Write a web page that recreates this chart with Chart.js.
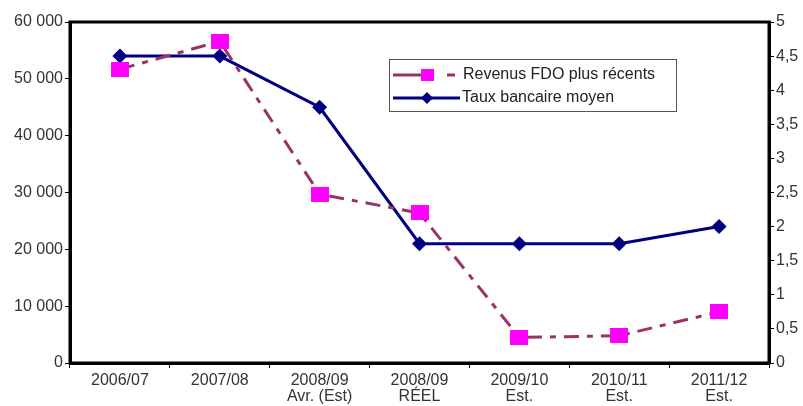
<!DOCTYPE html>
<html>
<head>
<meta charset="utf-8">
<script src="https://cdn.jsdelivr.net/npm/chart.js@4"></script>
<style>
  html, body { margin: 0; padding: 0; background: #fff; }
  #wrap { width: 803px; height: 406px; position: relative; }
</style>
</head>
<body>
<div id="wrap"><canvas id="myChart" width="803" height="406"></canvas></div>
<script>
// categories (multi-line labels)
const years = [
	['2006/07'],
	['2007/08'],
	['2008/09', 'Avr. (Est)'],
	['2008/09', 'RÉEL'],
	['2009/10', 'Est.'],
	['2010/11', 'Est.'],
	['2011/12', 'Est.']
];
// left axis series
const revenus = [51700, 56600, 29700, 26400, 4500, 4800, 9000];
// right axis series
const taux = [4.5, 4.5, 3.75, 1.75, 1.75, 1.75, 2.0];

const revenusLabel = 'Revenus FDO plus récents';
const tauxLabel = 'Taux bancaire moyen';

const pink = '#FF00FF';
const plum = '#993366';
const navy = '#000080';
const tickFont = { family: 'Liberation Sans, Arial, sans-serif', size: 16, lineHeight: 1.0 };

// slightly wide pink marker, like the original
const pinkMark = document.createElement('canvas');
pinkMark.width = 18;
pinkMark.height = 15;
const pm = pinkMark.getContext('2d');
pm.fillStyle = pink;
pm.fillRect(0, 0, 18, 15);

// box around the plot + legend drawn inside
const boxPlugin = {
	id: 'boxAndLegend',
	afterDraw(chart) {
		const ctx = chart.ctx;
		const a = chart.chartArea;
		ctx.save();
		ctx.strokeStyle = '#000';
		ctx.lineWidth = 3;
		ctx.strokeRect(a.left, a.top, a.right - a.left, a.bottom - a.top);

		// legend box
		const lx = 389, ly = 59, lw = 287, lh = 52;
		ctx.lineWidth = 1;
		ctx.strokeStyle = '#555';
		ctx.fillStyle = '#fff';
		ctx.fillRect(lx, ly, lw, lh);
		ctx.strokeRect(lx + 0.5, ly + 0.5, lw, lh);

		// row 1 : revenus
		let y = ly + 16;
		ctx.strokeStyle = plum;
		ctx.lineWidth = 3;
		ctx.beginPath();
		ctx.moveTo(lx + 4, y); ctx.lineTo(lx + 38, y);
		ctx.moveTo(lx + 58, y); ctx.lineTo(lx + 66, y);
		ctx.stroke();
		ctx.fillStyle = pink;
		ctx.fillRect(lx + 32, y - 6, 13, 12);
		ctx.fillStyle = '#222';
		ctx.font = '16px Liberation Sans, Arial, sans-serif';
		ctx.textBaseline = 'middle';
		ctx.fillText(revenusLabel, lx + 74, y);

		// row 2 : taux
		y = ly + 39;
		ctx.strokeStyle = navy;
		ctx.beginPath();
		ctx.moveTo(lx + 4, y); ctx.lineTo(lx + 71, y);
		ctx.stroke();
		ctx.fillStyle = navy;
		ctx.beginPath();
		ctx.moveTo(lx + 38, y - 6); ctx.lineTo(lx + 44, y);
		ctx.lineTo(lx + 38, y + 6); ctx.lineTo(lx + 32, y);
		ctx.closePath(); ctx.fill();
		ctx.fillStyle = '#222';
		ctx.fillText(tauxLabel, lx + 73, y);
		ctx.restore();
	}
};

const ctx = document.getElementById('myChart');
const myChart = new Chart(ctx, {
	type: 'line',
	data: {
		labels: years,
		datasets: [{
			label: revenusLabel,
			data: revenus,
			yAxisID: 'y',
			borderColor: plum,
			borderWidth: 3,
			borderDash: [15, 8, 6, 8],
			pointStyle: pinkMark,
			pointRadius: 9,
			pointHoverRadius: 9,
			pointBackgroundColor: pink,
			pointBorderColor: pink,
			pointBorderWidth: 0,
			tension: 0
		}, {
			label: tauxLabel,
			data: taux,
			yAxisID: 'y1',
			borderColor: navy,
			borderWidth: 3,
			pointStyle: 'rectRot',
			pointRadius: 7.5,
			pointHoverRadius: 7.5,
			pointBackgroundColor: navy,
			pointBorderColor: navy,
			pointBorderWidth: 0,
			tension: 0
		}]
	},
	options: {
		responsive: false,
		animation: false,
		layout: { padding: { top: 22, left: 0, right: 0, bottom: 0 } },
		plugins: {
			legend: { display: false },
			tooltip: { enabled: false }
		},
		scales: {
			x: {
				offset: true,
				grid: { display: true, offset: true, drawOnChartArea: false, tickLength: 5, color: '#000' },
				border: { display: true, color: '#000', width: 3 },
				ticks: { color: '#333', font: tickFont, maxRotation: 0, autoSkip: false, padding: 5 },
				afterFit(scale) { scale.height = 43; }
			},
			y: {
				position: 'left',
				min: 0,
				max: 60000,
				grid: { drawOnChartArea: false, tickLength: 5, color: '#000' },
				border: { display: true, color: '#000', width: 3 },
				ticks: {
					stepSize: 10000,
					color: '#333',
					font: tickFont,
					padding: 2,
					callback: function(value) {
						return value.toString().replace(/\B(?=(\d{3})+(?!\d))/g, ' ');
					}
				},
				afterFit(scale) { scale.width = 70; }
			},
			y1: {
				position: 'right',
				min: 0,
				max: 5,
				grid: { drawOnChartArea: false, tickLength: 5, color: '#000' },
				border: { display: true, color: '#000', width: 3 },
				ticks: {
					stepSize: 0.5,
					color: '#333',
					font: tickFont,
					padding: 2,
					callback: function(value) {
						return value.toString().replace('.', ',');
					}
				},
				afterFit(scale) { scale.width = 34; }
			}
		}
	},
	plugins: [boxPlugin]
});
</script>
</body>
</html>
